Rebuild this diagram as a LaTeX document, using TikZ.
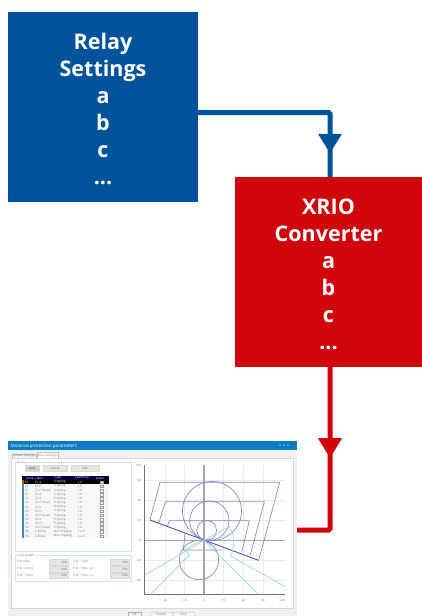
\documentclass[tikz,border=0pt]{standalone}
\usepackage{fontspec}
\setmainfont{Open Sans}
\usetikzlibrary{arrows.meta,decorations.markings}
\definecolor{relayblue}{HTML}{00539B}
\definecolor{xrred}{HTML}{D0050C}
\definecolor{titlebar}{HTML}{0A7CC4}
\definecolor{grp}{HTML}{CFE4F2}
\definecolor{zonec}{HTML}{8A8AC8}
\definecolor{zoned}{HTML}{5050AC}
\definecolor{teal}{HTML}{9ADAD2}
\definecolor{uitext}{HTML}{777777}
\tikzset{
  bigbox/.style={minimum width=#1,minimum height=190pt,inner sep=0pt,text=white,align=center,font=\fontsize{21.5}{27}\selectfont\bfseries},
  conn/.style={line width=5pt,rounded corners=1.5pt},
  ui/.style={inner sep=0pt,text=uitext,font=\fontsize{3}{3.5}\selectfont},
  uibtn/.style={fill=black!10,draw=black!15,line width=.3pt},
  grpbox/.style={draw=grp,line width=.6pt,fill=white},
  zone/.style={draw=zonec,line width=.7pt},
  zonedark/.style={draw=zoned,line width=.9pt},
  tealline/.style={draw=teal,line width=.7pt},
  grid/.style={draw=black!8,line width=.4pt},
  axisbig/.style={draw=black!35,line width=1.1pt},
  axisthin/.style={draw=black!55,line width=.5pt},
}
\begin{document}
\begin{tikzpicture}[x=1pt,y=-1pt]
\useasboundingbox (0,0) rectangle (422,616);
% screenshot window
\node[minimum width=289pt,minimum height=175pt,inner sep=0pt,fill=black!6] (shot) at (152.5,528.5) {};
\fill[titlebar] (8,441) rectangle (297,450);
\node[ui,text=white,anchor=west,font=\fontsize{4.5}{5}\selectfont] (title) at (10.5,446) {Distance protection parameters};
\fill[white] (280,445) circle (.7) (284,445) circle (.7) (288,445) circle (.7);
\fill[white] (11,458) rectangle (293,608);
\draw[black!15,line width=.4pt] (11,458) rectangle (293,608);
\fill[white] (37,453) rectangle (58,458);
\draw[black!25,line width=.3pt] (12,458) -- (12,454) -- (36,454) -- (36,458) (37,458) -- (37,452.5) -- (58,452.5) -- (58,458);
\node[ui] (tab1) at (24,456) {System Settings};
\node[ui] (tab2) at (47.5,455.5) {Zone Settings};
% zones group
\draw[grpbox] (15,462) rectangle (131,551);
\node[ui,fill=white,inner xsep=1pt] (zonesl) at (21,462) {Zones};
\draw[uibtn,fill=black!18] (25,465) rectangle (39,471);
\draw[uibtn] (43,465) rectangle (67,471);
\draw[uibtn] (71,465) rectangle (99,471);
\node[ui,text=black!70] (bnew) at (32,468) {New};
\node[ui] (bdel) at (55,468) {Delete};
\node[ui] (bedit) at (85,468) {Edit};
% table
\fill[black!3] (22,476) rectangle (109,538);
\fill[relayblue!70] (22,476) rectangle (24,538);
\fill[black!75!blue] (22,476) rectangle (109,480);
\fill[black] (24,480) rectangle (109,484);
\fill[orange!70!black] (22,480) rectangle (24,484);
\foreach \t/\x in {Zone/30,Label/39,Type/58,Fault loop/82,Active/100}
  \node[ui,text=white] (h\x) at (\x,478) {\t};
\foreach \za/\zb/\zc/\zd [count=\i] in {
 Z1/Z1 A/Tripping/L-E,
 Z1/Z1 H/Tripping/L-E,
 Z1/Z1 H Quad/Tripping/L-E,
 Z2/Z2 A/Tripping/L-E,
 Z2/Z2 A/Tripping/L-E,
 Z2/Z2 H Quad/Tripping/L-E,
 Z3/Z3 A/Tripping/L-E,
 Z3/Z3 H/Tripping/L-E,
 Z3/Z3 H Quad/Tripping/L-E,
 Z4/Z4 A/Tripping/L-E,
 Z4/Z4 H/Tripping/L-E,
 Z4/Z4 H Quad/Tripping/L-E,
 PG/Z-B Prot/Non tripping/L-L-E,
 PG/Z-B Rev/Non tripping/L-L-E}{
  \pgfmathsetmacro{\yy}{480+4.15*\i-2.07}
  \ifnum\i=1 \def\tc{white}\else\def\tc{uitext}\fi
  \node[ui,anchor=west,text=\tc] (ra\i) at (25,\yy) {\za};
  \node[ui,anchor=west,text=\tc] (rb\i) at (35,\yy) {\zb};
  \node[ui,anchor=west,text=\tc] (rc\i) at (54,\yy) {\zc};
  \node[ui,anchor=west,text=\tc] (rd\i) at (78,\yy) {\zd};
  \draw[black!40,line width=.3pt,fill=white] (100.5,\yy-1.3) rectangle (103.2,\yy+1.3);
}
% zone details
\draw[grpbox] (15,555) rectangle (131,581);
\node[ui,fill=white,inner xsep=1pt] (zdl) at (26,555) {Zone details};
\foreach \yy/\la/\lb [count=\i] in {562/Trip time:/Trip. T (ph):,569/Trip. Z (ms):/Trip. T (ms. a.):,575.5/Trip. T (ms):/Trip. T (ms. c.):}{
  \node[ui,anchor=west] (zl\i) at (17,\yy) {\la};
  \node[ui,anchor=west] (zr\i) at (73,\yy) {\lb};
  \draw[uibtn] (49,\yy-2.8) rectangle (68,\yy+2.8);
  \draw[uibtn] (110,\yy-2.8) rectangle (129,\yy+2.8);
  \node[ui,anchor=east,text=black!60] (va\i) at (67,\yy) {N/A};
  \node[ui,anchor=east,text=black!60] (vb\i) at (128,\yy) {N/A};
}
% bottom buttons
\draw[uibtn,draw=black!30,fill=black!4] (128,612) rectangle (141,617);
\draw[uibtn,fill=black!4] (150,612) rectangle (172,617);
\draw[uibtn,fill=black!4] (173,612) rectangle (194,617);
\node[ui] (bok) at (134.5,614.5) {Ok};
\node[ui] (bcan) at (161,614.5) {Cancel};
\node[ui] (bhelp) at (183.5,614.5) {Help};
% plot, in crop coordinates
\begin{scope}[shift={(130,430)},x=.33333pt,y=-.33333pt]
 \foreach \g in {105,163,281,340,399} \draw[grid] (\g,105) -- (\g,493);
 \foreach \g in {152,212,271,390,450} \draw[grid] (42,\g) -- (465,\g);
 \draw[axisbig] (222,105) -- (222,493);
 \draw[axisbig] (42,331) -- (465,331);
 \draw[axisthin] (42,105) -- (42,493) -- (465,493);
 \foreach \g/\l in {105/100,152/60,212/40,271/20,331/0,390/-20,450/-40}
   \node[ui,anchor=east] (yl\g) at (33,\g) {\l};
 \foreach \g/\l in {105/-20,163/-10,222/0,281/10,340/20,399/30,457/X(Ω)}
   \node[ui] (xl\g) at (\g,512) {\l};
 % characteristic polygons
 \draw[zone] (60,270) -- (90,157) -- (449,157) -- (386,391);
 \draw[zone] (86,280) -- (106,215) -- (403,215) -- (361,375);
 \draw[zone] (112,290) -- (118,272) -- (358,272) -- (335,367);
 \draw[zonedark] (60,270) -- (386,391);
 \draw[zone] (246,243) circle (29.5pt);
 \draw[zone] (238,272) circle (19.67pt);
 \draw[zone] (230,301) circle (9.83pt);
 \draw[zone] (207,390) circle (19.67pt);
 \draw[zone] (165,312) -- (160,360) -- (277,360);
 % teal lines
 \draw[tealline] (45,435) -- (222,331);
 \draw[tealline] (60,495) -- (178,375) -- (165,362) .. controls (180,345) and (200,338) .. (222,331);
 \draw[tealline] (465,470) -- (302,378) .. controls (312,355) and (318,325) .. (298,290) -- (222,331);
 \draw[tealline] (385,493) -- (222,331);
\end{scope}
% boxes
\node[bigbox=190pt,fill=relayblue] (relay) at (103,107) {\rule{0pt}{19.5pt}Relay\\Settings\\a\\b\\c\\...};
\node[bigbox=187pt,fill=xrred] (xrio) at (328.5,272) {\rule{0pt}{19.5pt}XRIO\\Converter\\a\\b\\c\\...};
\coordinate (j1) at (330,112.5);
\coordinate (j2) at (330,530);
\draw[conn,draw=relayblue,postaction={decorate},decoration={markings,mark=at position 172pt with {\arrow[relayblue]{Triangle[length=19.5pt,width=22.5pt]}}}]
  (relay.east |- j1) -- (j1) -- (j1 |- xrio.north);
\draw[conn,draw=xrred,postaction={decorate},decoration={markings,mark=at position 91pt with {\arrow[xrred]{Triangle[length=20pt,width=22.5pt]}}}]
  (j2 |- xrio.south) -- (j2) -- (shot.east |- j2);
\end{tikzpicture}
\end{document}
